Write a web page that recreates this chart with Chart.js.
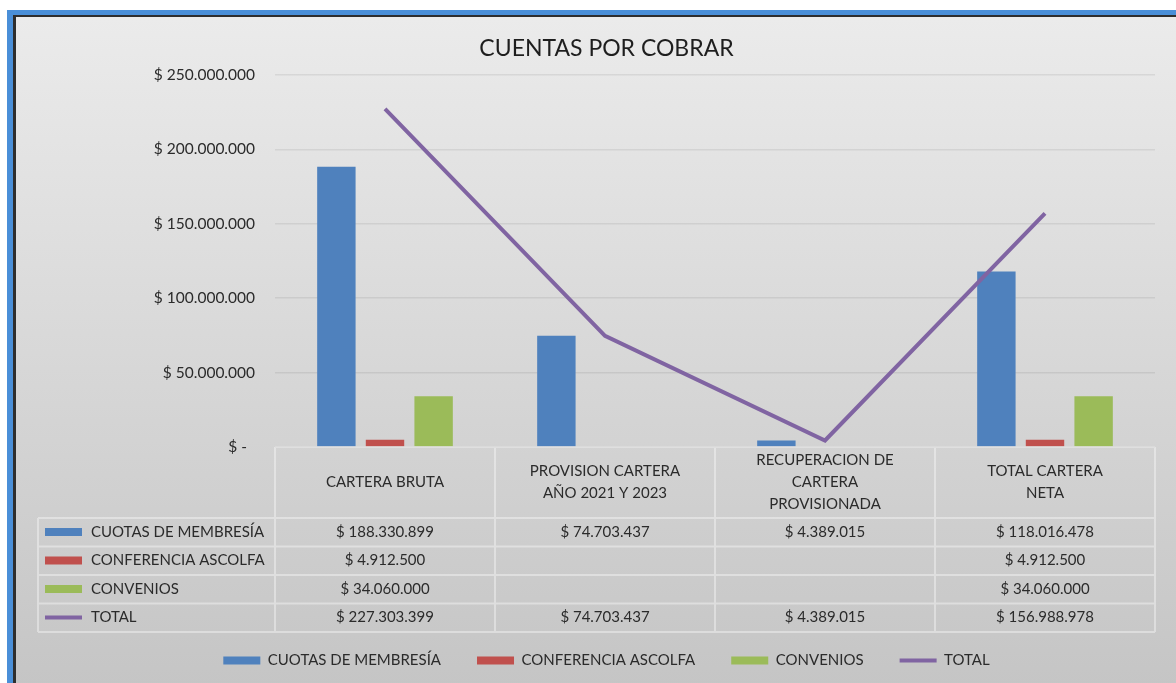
<!DOCTYPE html>
<html lang="es">
<head>
<meta charset="utf-8">
<title>Cuentas por cobrar</title>
<script src="https://cdn.jsdelivr.net/npm/chart.js@4.4.1/dist/chart.umd.min.js"></script>
<style>
  html, body { margin: 0; padding: 0; background: #fff; overflow: hidden; }
  #frame {
    position: absolute; left: 7px; top: 10px; width: 1200px; height: 671px;
    border-left: 6px solid #4a8fd8; border-top: 5px solid #4a8fd8; border-bottom: 2px solid #9cc0e8;
  }
  #inner {
    position: absolute; inset: 0;
    border-left: 3px solid #2e2e2e; border-top: 2px solid #2e2e2e;
    background: linear-gradient(#ebebeb, #c5c5c5);
  }
  #wrap { position: absolute; left: 0; top: 0; width: 1176px; height: 683px; }
</style>
</head>
<body>
<div id="frame"><div id="inner"></div></div>
<div id="wrap"><canvas id="chart"></canvas></div>
<script>
const categories = [
  ["CARTERA BRUTA"],
  ["PROVISION CARTERA", "AÑO 2021 Y 2023"],
  ["RECUPERACION DE", "CARTERA", "PROVISIONADA"],
  ["TOTAL CARTERA", "NETA"],
];
const seriesNames = ["CUOTAS DE MEMBRESÍA", "CONFERENCIA ASCOLFA", "CONVENIOS", "TOTAL"];
const cuotas = [188330899, 74703437, 4389015, 118016478];
const conferencia = [4912500, null, null, 4912500];
const convenios = [34060000, null, null, 34060000];
const total = [227303399, 74703437, 4389015, 156988978];
const yMax = 250000000;
const yStep = 50000000;

const colors = ["#4f81bd", "#c0504d", "#9bbb59", "#8064a2"];
const textColor = "#2b2b2b";
const fontFamily = "Lato, 'Open Sans', sans-serif";

const formatterNumber = new Intl.NumberFormat("de-DE");

function formatMoney(value) {
  if (value == null) return "";
  if (value === 0) return "$ -  ";
  return "$ " + formatterNumber.format(value);
}

// draws the data table under the plot, aligned with the category bands
const dataTable = {
  id: "dataTable",
  afterDraw(chart) {
    const { ctx, chartArea, scales } = chart;
    const x = scales.x;
    const top = chartArea.bottom;
    const headerH = 71;
    const rowH = 28.5;
    const left = 38;
    const series = chart.data.datasets;
    const bottom = top + headerH + rowH * series.length;
    const band = x.width / categories.length;
    const edges = categories.map((_, i) => x.getPixelForValue(i) - band / 2);
    edges.push(x.right);

    ctx.save();
    ctx.strokeStyle = "rgba(255,255,255,0.38)";
    ctx.lineWidth = 2;
    ctx.beginPath();
    ctx.moveTo(x.left, top);
    ctx.lineTo(x.right, top);
    for (let r = 0; r <= series.length; r += 1) {
      const y = top + headerH + rowH * r;
      ctx.moveTo(left, y);
      ctx.lineTo(x.right, y);
    }
    ctx.moveTo(left, top + headerH);
    ctx.lineTo(left, bottom);
    edges.forEach((ex) => {
      ctx.moveTo(ex, top);
      ctx.lineTo(ex, bottom);
    });
    ctx.stroke();

    ctx.fillStyle = textColor;
    ctx.font = "15px " + fontFamily;
    ctx.textAlign = "center";
    ctx.textBaseline = "middle";
    categories.forEach((lines, i) => {
      const cx = x.getPixelForValue(i);
      const cy = top + headerH / 2;
      lines.forEach((line, j) => {
        ctx.fillText(line, cx, cy + (j - (lines.length - 1) / 2) * 22);
      });
    });

    series.forEach((ds, r) => {
      const cy = top + headerH + rowH * r + 14;
      if (ds.type === "line") {
        ctx.strokeStyle = ds.borderColor;
        ctx.lineWidth = 4;
        ctx.beginPath();
        ctx.moveTo(45, cy);
        ctx.lineTo(82, cy);
        ctx.stroke();
      } else {
        ctx.fillStyle = ds.backgroundColor;
        ctx.fillRect(45, cy - 4, 37, 8);
      }
      ctx.fillStyle = textColor;
      ctx.textAlign = "left";
      ctx.fillText(ds.label, 91, cy);
      ctx.textAlign = "center";
      ds.data.forEach((v, i) => {
        ctx.fillText(formatMoney(v), x.getPixelForValue(i), cy);
      });
    });
    ctx.restore();
  },
};

const ctx = document.getElementById("chart");
new Chart(ctx, {
  data: {
    labels: categories,
    datasets: [
      { type: "bar", label: seriesNames[0], data: cuotas, backgroundColor: colors[0], order: 1 },
      { type: "bar", label: seriesNames[1], data: conferencia, backgroundColor: colors[1], order: 1 },
      { type: "bar", label: seriesNames[2], data: convenios, backgroundColor: colors[2], order: 1 },
      {
        type: "line",
        label: seriesNames[3],
        data: total,
        borderColor: colors[3],
        backgroundColor: colors[3],
        borderWidth: 4,
        pointRadius: 0,
        tension: 0,
        order: 0,
      },
    ],
  },
  options: {
    responsive: true,
    maintainAspectRatio: false,
    animation: false,
    layout: { padding: { left: 58, right: 21, top: 35, bottom: 5 } },
    datasets: {
      bar: { categoryPercentage: 0.663, barPercentage: 0.79 },
    },
    plugins: {
      title: {
        display: true,
        text: "CUENTAS POR COBRAR",
        color: "#1e1e1e",
        font: { family: fontFamily, size: 23, weight: "normal" },
        padding: { top: 0, bottom: 12.4 },
      },
      legend: {
        position: "bottom",
        labels: {
          color: textColor,
          font: { family: fontFamily, size: 15 },
          usePointStyle: true,
          pointStyleWidth: 37,
          boxHeight: 8,
          padding: 36,
          sort: (a, b) => a.datasetIndex - b.datasetIndex,
          generateLabels(chart) {
            const items = Chart.defaults.plugins.legend.labels.generateLabels(chart);
            items.forEach((item) => {
              const ds = chart.data.datasets[item.datasetIndex];
              item.pointStyle = ds.type === "line" ? "line" : "rect";
              item.fontColor = textColor;
            });
            return items;
          },
        },
      },
      tooltip: { enabled: false },
    },
    scales: {
      x: {
        ticks: { display: false },
        grid: { display: false },
        border: { display: false },
        afterFit: (scale) => { scale.height = 170; },
      },
      y: {
        min: 0,
        max: yMax,
        ticks: {
          stepSize: yStep,
          padding: 20,
          color: textColor,
          font: { family: fontFamily, size: 15.5 },
          callback: (value) => formatMoney(value),
        },
        grid: { color: "rgba(0,0,0,0.07)", lineWidth: 1.5, drawTicks: false },
        border: { display: false },
        afterFit: (scale) => { scale.width = 217; },
      },
    },
  },
  plugins: [dataTable],
});
</script>
</body>
</html>
